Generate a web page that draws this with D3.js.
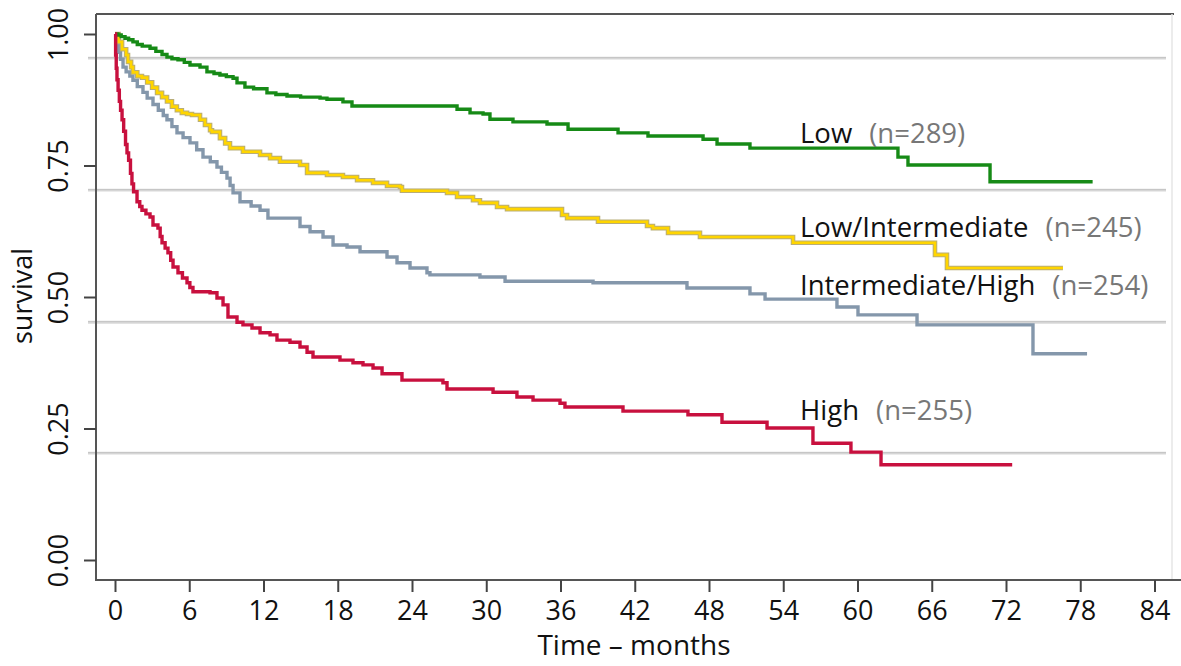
<!DOCTYPE html>
<html>
<head>
<meta charset="utf-8">
<script src="https://cdn.jsdelivr.net/npm/d3@7"></script>
<style>
  html, body { margin: 0; padding: 0; background: #fff; }
  svg { display: block; }
  text { font-family: "Open Sans", "DejaVu Sans", sans-serif; }
</style>
</head>
<body>
<svg id="chart" width="1181" height="666"></svg>
<script>
// ---- data (time in months, survival probability) ----
const xTicks = [0, 6, 12, 18, 24, 30, 36, 42, 48, 54, 60, 66, 72, 78, 84];
const yTicks = [0, 0.25, 0.5, 0.75, 1.0];
const refLines = [0.954, 0.703, 0.452, 0.203];

const lowTimes = [0, 0.24, 0.5, 0.81, 1.1, 1.45, 1.8, 2.2, 2.83, 3.3, 3.8, 4.2, 4.6, 5.09, 5.6, 6.06, 6.87, 7.43, 8.0, 8.48, 9.0, 9.54, 9.86, 10.5, 11.2, 12.28, 13.0, 13.9, 15.0, 16.57, 17.13, 18.42, 19.15, 27.64, 28.69, 29.74, 30.3, 32.16, 34.91, 36.61, 40.65, 43.07, 47.52, 48.65, 51.31, 63.27, 64.08, 70.71, 79.0];
const lowSurv  = [1.0, 0.998, 0.995, 0.992, 0.989, 0.985, 0.980, 0.977, 0.973, 0.967, 0.961, 0.956, 0.953, 0.951, 0.946, 0.941, 0.937, 0.928, 0.925, 0.922, 0.919, 0.916, 0.907, 0.899, 0.896, 0.888, 0.885, 0.882, 0.880, 0.878, 0.876, 0.871, 0.863, 0.857, 0.850, 0.848, 0.838, 0.833, 0.829, 0.819, 0.812, 0.806, 0.800, 0.791, 0.783, 0.766, 0.751, 0.719, 0.719];

const lowIntTimes = [0, 0.3, 0.57, 0.9, 1.05, 1.3, 1.45, 1.8, 2.18, 2.6, 3.0, 3.4, 3.8, 4.2, 4.6, 5.0, 5.4, 5.82, 6.22, 6.87, 7.27, 7.68, 7.84, 8.48, 8.9, 9.29, 10.34, 11.72, 12.53, 13.33, 14.95, 15.52, 17.13, 18.42, 19.56, 20.85, 21.98, 23.03, 23.19, 26.83, 27.64, 28.93, 29.49, 30.87, 31.68, 36.12, 36.53, 39.03, 42.99, 43.47, 44.69, 47.27, 54.79, 66.26, 67.23, 76.6];
const lowIntSurv  = [1.0, 0.985, 0.971, 0.960, 0.947, 0.937, 0.927, 0.920, 0.917, 0.908, 0.898, 0.888, 0.880, 0.872, 0.862, 0.855, 0.850, 0.848, 0.846, 0.837, 0.827, 0.817, 0.814, 0.802, 0.792, 0.783, 0.776, 0.770, 0.764, 0.757, 0.751, 0.736, 0.732, 0.728, 0.722, 0.717, 0.711, 0.709, 0.702, 0.698, 0.690, 0.684, 0.679, 0.671, 0.667, 0.656, 0.650, 0.643, 0.635, 0.631, 0.622, 0.614, 0.603, 0.580, 0.555, 0.555];

const intHighTimes = [0, 0.08, 0.16, 0.3, 0.45, 0.65, 0.9, 1.2, 1.45, 1.8, 2.26, 2.6, 3.07, 3.5, 3.9, 4.2, 4.6, 5.01, 5.5, 6.06, 6.6, 7.11, 7.7, 8.24, 8.6, 9.05, 9.3, 9.54, 10.1, 11.0, 11.72, 12.36, 14.95, 15.76, 16.81, 17.62, 18.75, 19.8, 21.98, 22.79, 23.84, 25.21, 25.45, 29.49, 31.52, 38.63, 46.22, 51.31, 52.53, 58.34, 60.04, 64.81, 74.18, 78.55];
const intHighSurv  = [1.0, 0.990, 0.979, 0.965, 0.952, 0.937, 0.928, 0.920, 0.912, 0.900, 0.889, 0.878, 0.866, 0.855, 0.845, 0.837, 0.824, 0.812, 0.803, 0.793, 0.780, 0.766, 0.757, 0.747, 0.737, 0.726, 0.712, 0.698, 0.681, 0.673, 0.665, 0.650, 0.634, 0.624, 0.614, 0.599, 0.595, 0.586, 0.576, 0.565, 0.555, 0.546, 0.542, 0.538, 0.530, 0.527, 0.517, 0.506, 0.496, 0.481, 0.466, 0.447, 0.392, 0.392];

const highTimes = [0, 0.05, 0.1, 0.16, 0.25, 0.35, 0.45, 0.57, 0.7, 0.85, 0.97, 1.1, 1.25, 1.37, 1.5, 1.78, 2.0, 2.18, 2.5, 2.83, 3.07, 3.47, 3.65, 3.8, 4.05, 4.28, 4.5, 4.69, 5.09, 5.45, 5.82, 6.05, 6.3, 7.68, 8.24, 8.73, 9.13, 9.86, 10.34, 11.07, 11.72, 12.53, 13.09, 14.14, 14.95, 15.52, 16.0, 18.18, 19.23, 20.04, 20.85, 21.58, 23.19, 26.5, 26.83, 30.55, 32.48, 33.78, 35.96, 36.36, 41.05, 46.3, 49.05, 52.69, 56.4, 59.47, 61.9, 72.5];
const highSurv  = [1.0, 0.960, 0.935, 0.913, 0.893, 0.872, 0.855, 0.837, 0.815, 0.790, 0.774, 0.760, 0.735, 0.715, 0.700, 0.681, 0.672, 0.665, 0.658, 0.652, 0.637, 0.631, 0.615, 0.603, 0.593, 0.584, 0.570, 0.557, 0.546, 0.536, 0.527, 0.518, 0.510, 0.508, 0.498, 0.485, 0.462, 0.452, 0.447, 0.441, 0.432, 0.428, 0.418, 0.414, 0.405, 0.395, 0.386, 0.380, 0.375, 0.371, 0.365, 0.354, 0.342, 0.337, 0.325, 0.319, 0.310, 0.304, 0.298, 0.291, 0.283, 0.276, 0.262, 0.251, 0.222, 0.205, 0.181, 0.181];

const groupNames = ["Low", "Low/Intermediate", "Intermediate/High", "High"];
const groupN = ["(n=289)", "(n=245)", "(n=254)", "(n=255)"];
const groupColors = ["#168a16", "#ffd500", "#8497ab", "#c8103e"];

// ---- layout ----
const svg = d3.select("#chart");
const x = d3.scaleLinear().domain([0, 84]).range([115, 1154.5]);
const y = d3.scaleLinear().domain([0, 1]).range([560, 34]);

// reference (grey double) lines
refLines.forEach(v => {
  svg.append("line").attr("x1", 88).attr("x2", 1166).attr("y1", y(v)).attr("y2", y(v))
    .attr("stroke", "#d8d8d8").attr("stroke-width", 2.8);
  svg.append("line").attr("x1", 88).attr("x2", 1166).attr("y1", y(v) - 0.6).attr("y2", y(v) - 0.6)
    .attr("stroke", "#c2c2c2").attr("stroke-width", 0.9);
});

// frame
svg.append("line").attr("x1", 96).attr("x2", 1174).attr("y1", 14).attr("y2", 14)
  .attr("stroke", "#555").attr("stroke-width", 2);
svg.append("line").attr("x1", 1172).attr("x2", 1172).attr("y1", 14).attr("y2", 580)
  .attr("stroke", "#e6e6e6").attr("stroke-width", 1.5);
svg.append("line").attr("x1", 96).attr("x2", 96).attr("y1", 14).attr("y2", 581)
  .attr("stroke", "#555").attr("stroke-width", 2);
svg.append("line").attr("x1", 95).attr("x2", 1181).attr("y1", 580).attr("y2", 580)
  .attr("stroke", "#555").attr("stroke-width", 2);

// x axis
const xAxis = svg.append("g").attr("transform", "translate(0,580)")
  .call(d3.axisBottom(x).tickValues(xTicks).tickSize(12).tickPadding(9).tickFormat(d3.format("d")));
xAxis.select(".domain").remove();
xAxis.selectAll(".tick line").attr("stroke", "#444").attr("stroke-width", 2);
xAxis.selectAll(".tick text").attr("font-size", 27).attr("fill", "#111")
  .attr("font-family", "'Open Sans', sans-serif").attr("dy", "0.72em");

// y axis
const yAxis = svg.append("g").attr("transform", "translate(96,0)")
  .call(d3.axisLeft(y).tickValues(yTicks).tickSize(12).tickFormat(d3.format(".2f")));
yAxis.select(".domain").remove();
yAxis.selectAll(".tick line").attr("stroke", "#444").attr("stroke-width", 2);
yAxis.selectAll(".tick text")
  .attr("x", null).attr("dy", null)
  .attr("transform", "translate(-28,0) rotate(-90)")
  .attr("text-anchor", "middle")
  .attr("font-size", 27).attr("fill", "#111")
  .attr("font-family", "'Open Sans', sans-serif");

// axis titles
svg.append("text").attr("x", 634).attr("y", 655).attr("text-anchor", "middle")
  .attr("font-size", 28).attr("fill", "#111").text("Time \u2013 months");
svg.append("text").attr("transform", "translate(32,296) rotate(-90)").attr("text-anchor", "middle")
  .attr("font-size", 27).attr("fill", "#111").text("survival");

// curves
const series = [
  {t: lowTimes, s: lowSurv},
  {t: lowIntTimes, s: lowIntSurv},
  {t: intHighTimes, s: intHighSurv},
  {t: highTimes, s: highSurv}
];
const line = d3.line().x(d => x(d[0])).y(d => y(d[1])).curve(d3.curveStepAfter);
// draw order: gray, yellow, green, red
[2, 1, 0, 3].forEach(i => {
  const pts = series[i].t.map((t, k) => [t, series[i].s[k]]);
  if (i === 1) {
    svg.append("path").attr("d", line(pts)).attr("fill", "none")
      .attr("stroke", "#b8ad78").attr("stroke-width", 4.6);
    svg.append("path").attr("d", line(pts)).attr("fill", "none")
      .attr("stroke", groupColors[i]).attr("stroke-width", 2.6);
  } else {
    svg.append("path").attr("d", line(pts)).attr("fill", "none")
      .attr("stroke", groupColors[i]).attr("stroke-width", 3.4);
  }
});

// group labels
const labelBase = [143, 237, 295, 420];
groupNames.forEach((name, i) => {
  const t = svg.append("text").attr("x", 800).attr("y", labelBase[i])
    .attr("font-size", 27.5).attr("fill", "#111").text(name);
  const w = t.node().getComputedTextLength();
  svg.append("text").attr("x", 800 + w + 17).attr("y", labelBase[i])
    .attr("font-size", 27.5).attr("fill", "#777").text(groupN[i]);
});
</script>
</body>
</html>
